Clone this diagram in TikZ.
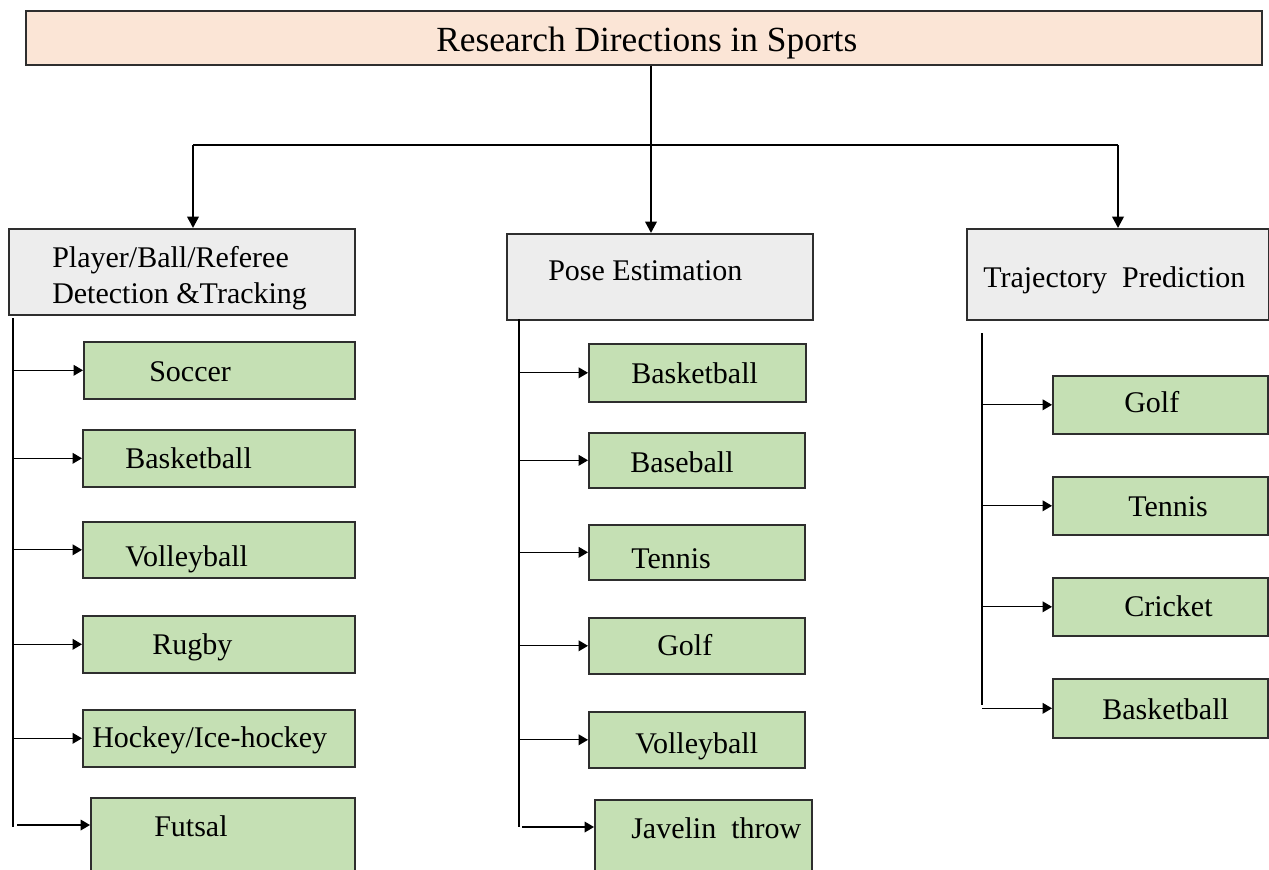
\documentclass[tikz,border=0pt]{standalone}
\usepackage{fontspec}
\setmainfont{Liberation Serif}
\usetikzlibrary{arrows.meta}
\definecolor{peach}{HTML}{FBE5D6}
\definecolor{greybox}{HTML}{EDEDED}
\definecolor{leafgreen}{HTML}{C5E0B4}
\definecolor{edge}{HTML}{2E2E2E}
\def\px{0.75pt}
\tikzset{
  bx/.style={draw=edge, line width=1.2pt, inner sep=0pt, anchor=north west},
  topbox/.style={bx, fill=peach},
  catbox/.style={bx, fill=greybox},
  leaf/.style={bx, fill=leafgreen},
  lbl/.style={inner sep=0pt, anchor=base west, font=\fontsize{22.5}{27}\selectfont},
  mainline/.style={line width=1.8pt, black},
  mainarrow/.style={mainline, -{Triangle[length=8.5pt,width=8.5pt]}},
  trunk/.style={line width=0.9pt, black},
  twig/.style={line width=0.9pt, black, -{Triangle[length=7pt,width=8pt]}}
}
\begin{document}
\begin{tikzpicture}[x=0.75pt,y=-0.75pt]
\useasboundingbox (0,0) rectangle (1269,869);
\clip (0,0) rectangle (1269,869);

% top
\node[topbox, minimum width=1236*\px, minimum height=54*\px] (top) at (25,10) {};
\node[lbl, font=\fontsize{26.5}{30}\selectfont] (ttop) at (436,51) {Research Directions in Sports};

% categories
\node[catbox, minimum width=346*\px, minimum height=86*\px] (b1) at (8,228) {};
\node[lbl] (tb1a) at (52,267) {Player/Ball/Referee};
\node[lbl] (tb1b) at (52,303) {Detection \&Tracking};
\node[catbox, minimum width=306*\px, minimum height=86*\px] (b2) at (506,233) {};
\node[lbl] (tb2) at (548,280) {Pose Estimation};
\node[catbox, minimum width=302*\px, minimum height=91*\px] (b3) at (966,228) {};
\node[lbl] (tb3) at (983,287) {Trajectory\ \ Prediction};

% main connectors
\coordinate (hub) at (651,145);
\coordinate (a1) at (193,145);
\coordinate (a3) at (1118,145);
\draw[mainline] (top.south -| hub) -- (hub);
\draw[mainline] (a1) -- (a3);
\draw[mainarrow] (a1) -- (a1 |- b1.north);
\draw[mainarrow] (hub) -- (hub |- b2.north);
\draw[mainarrow] (a3) -- (a3 |- b3.north);

% left column
\node[leaf, minimum width=271*\px, minimum height=57*\px] (l1) at (83,341) {};
\node[lbl] (tl1) at (149,381) {Soccer};
\node[leaf, minimum width=272*\px, minimum height=57*\px] (l2) at (82,429) {};
\node[lbl] (tl2) at (125,468) {Basketball};
\node[leaf, minimum width=272*\px, minimum height=56*\px] (l3) at (82,521) {};
\node[lbl] (tl3) at (125,566) {Volleyball};
\node[leaf, minimum width=272*\px, minimum height=57*\px] (l4) at (82,615) {};
\node[lbl] (tl4) at (152,654) {Rugby};
\node[leaf, minimum width=272*\px, minimum height=57*\px] (l5) at (82,709) {};
\node[lbl] (tl5) at (92,747) {Hockey/Ice-hockey};
\node[leaf, minimum width=264*\px, minimum height=80*\px] (l6) at (90,797) {};
\node[lbl] (tl6) at (154,836) {Futsal};

\coordinate (lt) at (13,318);
\coordinate (lb) at (13,827);
\draw[trunk] (lt) -- (lb);
\foreach \n in {l1,l2,l3,l4,l5}{
  \draw[twig] (lt |- \n.west) -- (\n.west);
}
\coordinate (l6a) at ([yshift=-28*\px]l6.north west);
\coordinate (l6s) at (17,825);
\draw[twig] (l6s) -- (l6s -| l6a);

% middle column
\node[leaf, minimum width=217*\px, minimum height=58*\px] (m1) at (588,343) {};
\node[lbl] (tm1) at (631,383) {Basketball};
\node[leaf, minimum width=216*\px, minimum height=55*\px] (m2) at (588,432) {};
\node[lbl] (tm2) at (630,472) {Baseball};
\node[leaf, minimum width=216*\px, minimum height=55*\px] (m3) at (588,524) {};
\node[lbl] (tm3) at (631,568) {Tennis};
\node[leaf, minimum width=216*\px, minimum height=56*\px] (m4) at (588,617) {};
\node[lbl] (tm4) at (657,655) {Golf};
\node[leaf, minimum width=216*\px, minimum height=56*\px] (m5) at (588,711) {};
\node[lbl] (tm5) at (635,753) {Volleyball};
\node[leaf, minimum width=217*\px, minimum height=80*\px] (m6) at (594,799) {};
\node[lbl] (tm6) at (631,838) {Javelin\ \ throw};

\coordinate (mt) at (519,319);
\coordinate (mb) at (519,827);
\draw[trunk] (mt) -- (mb);
\foreach \n in {m1,m2,m3,m4,m5}{
  \draw[twig] (mt |- \n.west) -- (\n.west);
}
\coordinate (m6s) at (522,827);
\draw[twig] (m6s) -- (m6s -| m6.west);

% right column
\node[leaf, minimum width=215*\px, minimum height=58*\px] (r1) at (1052,375) {};
\node[lbl] (tr1) at (1124,412) {Golf};
\node[leaf, minimum width=215*\px, minimum height=58*\px] (r2) at (1052,476) {};
\node[lbl] (tr2) at (1128,516) {Tennis};
\node[leaf, minimum width=215*\px, minimum height=58*\px] (r3) at (1052,577) {};
\node[lbl] (tr3) at (1124,616) {Cricket};
\node[leaf, minimum width=215*\px, minimum height=59*\px] (r4) at (1052,678) {};
\node[lbl] (tr4) at (1102,719) {Basketball};

\coordinate (rt) at (982,333);
\coordinate (rb) at (982,705);
\draw[trunk] (rt) -- (rb);
\foreach \n in {r1,r2,r3,r4}{
  \draw[twig] (rt |- \n.west) -- (\n.west);
}
\end{tikzpicture}
\end{document}
